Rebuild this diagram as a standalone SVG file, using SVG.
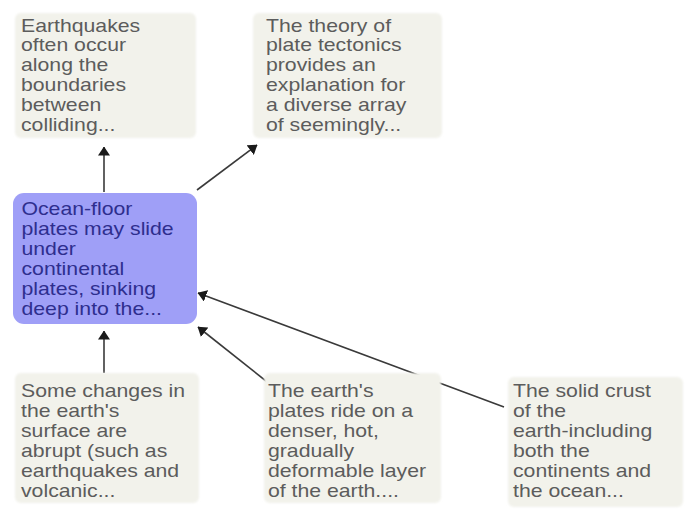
<svg xmlns="http://www.w3.org/2000/svg" width="693" height="512" viewBox="0 0 693 512">
  <defs>
    <style>
      .note { fill: #f2f2eb; }
      .focus { fill: #9f9ff7; }
      .lbl { font-family: "Liberation Sans", Arial, sans-serif; font-size: 18px; fill: #5c5c5c; }
      .lbl-focus { font-family: "Liberation Sans", Arial, sans-serif; font-size: 18px; fill: #2e2e8e; }
      .edge { stroke: #3a3a3a; stroke-width: 1.6; fill: none; marker-end: url(#head); }
    </style>
    <filter id="soft" x="-5%" y="-5%" width="110%" height="110%">
      <feGaussianBlur stdDeviation="1.2"/>
    </filter>
    <!-- short, wide arrowhead -->
    <marker id="head" viewBox="0 0 9 12" refX="8.5" refY="6" markerWidth="9" markerHeight="12" markerUnits="userSpaceOnUse" orient="auto">
      <path d="M0,0 L9,6 L0,12 Z" fill="#1a1a1a"/>
    </marker>
  </defs>

  <rect width="693" height="512" fill="#ffffff"/>

  <!-- connectors -->
  <g id="connectors">
    <line class="edge" x1="104" y1="192" x2="104" y2="147"/>
    <line class="edge" x1="197" y1="190" x2="257" y2="145"/>
    <line class="edge" x1="104" y1="373" x2="104" y2="331"/>
    <line class="edge" x1="271" y1="385" x2="198" y2="327"/>
    <line class="edge" x1="504" y1="407" x2="198" y2="293"/>
  </g>

  <!-- upper left note -->
  <g id="node-earthquakes">
    <rect class="note" x="15" y="13" width="181" height="125" rx="6" filter="url(#soft)"/>
    <g transform="translate(21,31.5) scale(1.18,1)">
      <text class="lbl">
        <tspan x="0" y="0">Earthquakes</tspan>
        <tspan x="0" dy="20">often occur</tspan>
        <tspan x="0" dy="20">along the</tspan>
        <tspan x="0" dy="20">boundaries</tspan>
        <tspan x="0" dy="20">between</tspan>
        <tspan x="0" dy="20">colliding...</tspan>
      </text>
    </g>
  </g>

  <!-- upper middle note -->
  <g id="node-theory">
    <rect class="note" x="253" y="13" width="189" height="125" rx="6" filter="url(#soft)"/>
    <g transform="translate(266,31.5) scale(1.18,1)">
      <text class="lbl">
        <tspan x="0" y="0">The theory of</tspan>
        <tspan x="0" dy="20">plate tectonics</tspan>
        <tspan x="0" dy="20">provides an</tspan>
        <tspan x="0" dy="20">explanation for</tspan>
        <tspan x="0" dy="20">a diverse array</tspan>
        <tspan x="0" dy="20">of seemingly...</tspan>
      </text>
    </g>
  </g>

  <!-- central highlighted node -->
  <g id="node-ocean-floor">
    <rect class="focus" x="13" y="193" width="184" height="131" rx="11"/>
    <g transform="translate(21.5,215) scale(1.18,1)">
      <text class="lbl-focus">
        <tspan x="0" y="0">Ocean-floor</tspan>
        <tspan x="0" dy="20">plates may slide</tspan>
        <tspan x="0" dy="20">under</tspan>
        <tspan x="0" dy="20">continental</tspan>
        <tspan x="0" dy="20">plates, sinking</tspan>
        <tspan x="0" dy="20">deep into the...</tspan>
      </text>
    </g>
  </g>

  <!-- lower left note -->
  <g id="node-changes">
    <rect class="note" x="15" y="373" width="184" height="130" rx="6" filter="url(#soft)"/>
    <g transform="translate(21,397) scale(1.18,1)">
      <text class="lbl">
        <tspan x="0" y="0">Some changes in</tspan>
        <tspan x="0" dy="20">the earth's</tspan>
        <tspan x="0" dy="20">surface are</tspan>
        <tspan x="0" dy="20">abrupt (such as</tspan>
        <tspan x="0" dy="20">earthquakes and</tspan>
        <tspan x="0" dy="20">volcanic...</tspan>
      </text>
    </g>
  </g>

  <!-- lower middle note -->
  <g id="node-plates-ride">
    <rect class="note" x="264" y="373" width="177" height="130" rx="6" filter="url(#soft)"/>
    <g transform="translate(268,397) scale(1.18,1)">
      <text class="lbl">
        <tspan x="0" y="0">The earth's</tspan>
        <tspan x="0" dy="20">plates ride on a</tspan>
        <tspan x="0" dy="20">denser, hot,</tspan>
        <tspan x="0" dy="20">gradually</tspan>
        <tspan x="0" dy="20">deformable layer</tspan>
        <tspan x="0" dy="20">of the earth....</tspan>
      </text>
    </g>
  </g>

  <!-- lower right note -->
  <g id="node-solid-crust">
    <rect class="note" x="508" y="377" width="175" height="130" rx="6" filter="url(#soft)"/>
    <g transform="translate(513,397) scale(1.18,1)">
      <text class="lbl">
        <tspan x="0" y="0">The solid crust</tspan>
        <tspan x="0" dy="20">of the</tspan>
        <tspan x="0" dy="20">earth-including</tspan>
        <tspan x="0" dy="20">both the</tspan>
        <tspan x="0" dy="20">continents and</tspan>
        <tspan x="0" dy="20">the ocean...</tspan>
      </text>
    </g>
  </g>
</svg>
